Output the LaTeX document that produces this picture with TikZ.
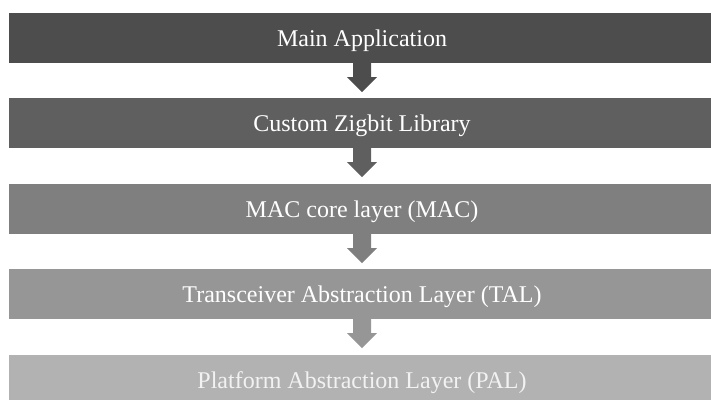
\documentclass[tikz,border=0pt]{standalone}
\usepackage{fontspec}
\setmainfont{Liberation Serif}
\usetikzlibrary{calc}
\definecolor{c1}{HTML}{4D4D4D}
\definecolor{c2}{HTML}{5F5F5F}
\definecolor{c3}{HTML}{7F7F7F}
\definecolor{c4}{HTML}{969696}
\definecolor{c5}{HTML}{B2B2B2}
\tikzset{
  layer/.style={fill=#1, draw=none, text=white, minimum width=706pt, minimum height=50pt,
    inner sep=0pt, text height=17pt, text depth=0pt, font=\fontsize{24}{28}\selectfont},
  blockarrow/.style={fill=#1, draw=none}
}
\newcommand{\downarrowfrom}[2]{%
  \fill[blockarrow=#2] ([xshift=-9pt]#1.south) -- ++(0,-14pt) -- ++(-6pt,0) -- ++(15pt,-15pt)
    -- ++(15pt,15pt) -- ++(-6pt,0) -- ++(0,14pt) -- cycle;}
\begin{document}
\begin{tikzpicture}[x=1pt,y=-1pt]
\useasboundingbox (0,0) rectangle (711,399);
\node[layer=c1] (main) at (362,38) {Main Application};
\node[layer=c2] (zig) at (362,123) {Custom Zigbit Library};
\node[layer=c3] (mac) at (362,209) {MAC core layer (MAC)};
\node[layer=c4] (tal) at (362,294) {Transceiver Abstraction Layer (TAL)};
\node[layer=c5, text=white!95!black] (pal) at (362,380) {Platform Abstraction Layer (PAL)};
\downarrowfrom{main}{c1}
\downarrowfrom{zig}{c2}
\downarrowfrom{mac}{c3}
\downarrowfrom{tal}{c4}
\end{tikzpicture}
\end{document}
